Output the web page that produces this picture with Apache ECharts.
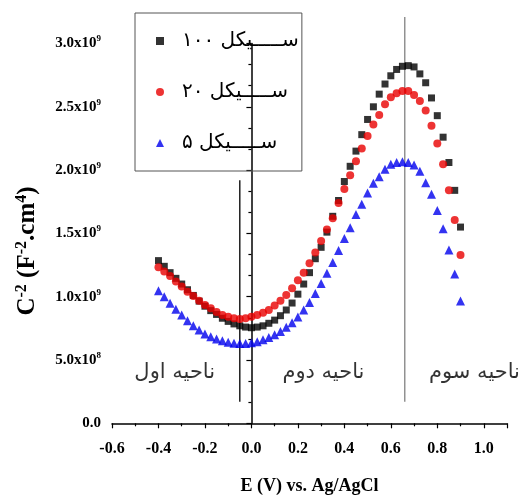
<!DOCTYPE html>
<html><head><meta charset="utf-8">
<script src="https://cdn.jsdelivr.net/npm/echarts@6/dist/echarts.min.js"></script>
<style>html,body{margin:0;padding:0;background:#fff}#c{width:527px;height:495px}</style>
</head><body><div id="c"></div>
<script>
// Potential E (V) vs. Ag/AgCl
const potentials = [-0.4,-0.375,-0.35,-0.325,-0.3,-0.275,-0.25,-0.225,-0.2,-0.175,-0.15,-0.125,-0.1,-0.075,-0.05,-0.025,
  0,0.025,0.05,0.075,0.1,0.125,0.15,0.175,0.2,0.225,0.25,0.275,0.3,0.325,0.35,0.375,
  0.4,0.425,0.45,0.475,0.5,0.525,0.55,0.575,0.6,0.625,0.65,0.675,0.7,0.725,0.75,0.775,
  0.8,0.825,0.85,0.875,0.9];
// C^-2 in units of 1e9 F^-2.cm^4
const cycle100 = [1.285,1.24,1.19,1.145,1.10,1.055,1.01,0.965,0.925,0.89,0.86,0.83,0.805,0.785,0.77,0.76,
  0.755,0.76,0.77,0.79,0.815,0.85,0.895,0.95,1.02,1.10,1.19,1.30,1.39,1.51,1.635,1.76,
  1.91,2.03,2.15,2.28,2.40,2.50,2.60,2.68,2.745,2.795,2.82,2.825,2.815,2.76,2.69,2.57,
  2.43,2.26,2.06,1.84,1.55];
const cycle20 = [1.232,1.20,1.163,1.12,1.08,1.04,1.005,0.968,0.934,0.908,0.88,0.855,0.842,0.83,0.824,0.83,
  0.842,0.855,0.874,0.895,0.93,0.968,1.013,1.066,1.13,1.19,1.264,1.35,1.44,1.53,1.62,1.74,
  1.85,1.96,2.07,2.17,2.27,2.36,2.435,2.52,2.575,2.607,2.625,2.625,2.593,2.546,2.47,2.35,
  2.21,2.046,1.84,1.606,1.33];
const cycle5 = [1.047,1.00,0.948,0.90,0.855,0.81,0.77,0.737,0.705,0.684,0.666,0.652,0.64,0.632,0.63,0.63,
  0.636,0.645,0.66,0.678,0.70,0.725,0.758,0.795,0.84,0.895,0.955,1.025,1.105,1.185,1.27,1.365,
  1.46,1.545,1.65,1.73,1.82,1.896,1.948,2.006,2.046,2.06,2.066,2.06,2.04,1.99,1.90,1.81,
  1.68,1.537,1.369,1.18,0.966];
const seriesNames = ['ســـــیکل ۱۰۰', 'ســـــیکل ۲۰', 'ســـــیکل ۵'];
const seriesColors = ['#000000', '#e80000', '#0000ee'];
const seriesSymbols = ['rect', 'circle', 'triangle'];
const regionLabels = ['ناحیه اول', 'ناحیه دوم', 'ناحیه سوم'];
const regionX = [-0.33, 0.31, 0.96];
const regionY = [0.40, 0.40, 0.40];
const dividerX = [-0.05, 0.66];
const dividerBottom = [0.17, 0.17];
const dividerTop = [1.92, 3.21];
const xTicks = {min: -0.6, max: 1.1, interval: 0.2};
const yTicks = {min: 0, max: 3, interval: 0.5};

const serif = 'Liberation Serif';
const chart = echarts.init(document.getElementById('c'), null, {renderer: 'canvas'});

function yLabel(v) {
  if (Math.abs(v) < 1e-9) return '{m|0.0}';
  if (v < 1) return '{m|' + (v * 10).toFixed(1) + 'x10}{s|8}';
  return '{m|' + v.toFixed(1) + 'x10}{s|9}';
}

const dataSets = [cycle100, cycle20, cycle5];
const scatterSeries = dataSets.map((arr, i) => ({
  name: seriesNames[i],
  type: 'scatter',
  symbol: seriesSymbols[i],
  symbolSize: [7, 8, 9][i],
  itemStyle: {color: seriesColors[i]},
  data: potentials.map((x, j) => [x, arr[j]]),
  z: 3 + i
}));

const dividerSeries = dividerX.map((x, i) => ({
  type: 'line',
  symbol: 'none',
  clip: false,
  silent: true,
  lineStyle: {color: i === 0 ? '#111' : '#8a8a8a', width: 1.4},
  data: [[x, dividerBottom[i]], [x, dividerTop[i]]],
  z: 2
}));

const regionSeries = {
  type: 'scatter',
  symbolSize: 0,
  silent: true,
  clip: false,
  data: regionLabels.map((t, i) => ({name: t, value: [regionX[i], regionY[i]]})),
  label: {show: true, position: 'inside', formatter: '{b}', fontFamily: 'DejaVu Sans', fontSize: 21, color: '#000'},
  z: 1
};

chart.setOption({
  animation: false,
  backgroundColor: '#fff',
  grid: {left: 112, right: 20, top: 43.5, bottom: 71.7, containLabel: false, outerBoundsMode: 'none'},
  legend: {
    data: seriesNames,
    orient: 'vertical',
    left: 135, top: 13,
    padding: [16, 3, 16, 21],
    itemGap: 27,
    itemWidth: 8, itemHeight: 8,
    borderColor: '#555', borderWidth: 1,
    textStyle: {fontFamily: 'DejaVu Sans', fontSize: 20, lineHeight: 24, color: '#000', padding: [0, 0, 0, 13]}
  },
  xAxis: {
    type: 'value', min: xTicks.min, max: xTicks.max, interval: xTicks.interval,
    axisLine: {onZero: false, lineStyle: {color: '#000', width: 1.5}},
    axisTick: {show: true, inside: false, length: 5, lineStyle: {color: '#000', width: 1.2}},
    minorTick: {show: true, splitNumber: 2, length: 3, lineStyle: {color: '#000', width: 1.2}},
    splitLine: {show: false},
    axisLabel: {showMaxLabel: false, margin: 18, fontFamily: serif, fontWeight: 'bold', fontSize: 16, color: '#000',
      formatter: v => v.toFixed(1)},
    name: 'E (V) vs. Ag/AgCl', nameLocation: 'middle', nameGap: 54,
    nameTextStyle: {fontFamily: serif, fontWeight: 'bold', fontSize: 18, color: '#000'}
  },
  yAxis: {
    type: 'value', min: yTicks.min, max: yTicks.max, interval: yTicks.interval,
    axisLine: {show: true, lineStyle: {color: '#000', width: 1.5}},
    axisTick: {show: true, inside: false, length: 5, lineStyle: {color: '#000', width: 1.2}},
    minorTick: {show: true, splitNumber: 3, length: 3, lineStyle: {color: '#000', width: 1.2}},
    splitLine: {show: false},
    axisLabel: {margin: 11, formatter: yLabel,
      rich: {
        m: {fontFamily: serif, fontWeight: 'bold', fontSize: 15, color: '#000', lineHeight: 18},
        s: {fontFamily: serif, fontWeight: 'bold', fontSize: 9, color: '#000', lineHeight: 18, verticalAlign: 'top', padding: [0, 0, 9, 0]}
      }}
  },
  graphic: [{
    type: 'text', x: 28, y: 251, rotation: Math.PI / 2,
    style: {
      text: '{m|C}{s|-2}{m| (F}{s|-2}{m|.cm}{s|4}{m|)}',
      align: 'center', verticalAlign: 'middle',
      rich: {
        m: {fontFamily: serif, fontWeight: 'bold', fontSize: 25, fill: '#000', lineHeight: 27},
        s: {fontFamily: serif, fontWeight: 'bold', fontSize: 16, fill: '#000', lineHeight: 27, padding: [0, 0, 13, 0]}
      }
    }
  }],
  series: [...dividerSeries, regionSeries, ...scatterSeries]
});
</script></body></html>
